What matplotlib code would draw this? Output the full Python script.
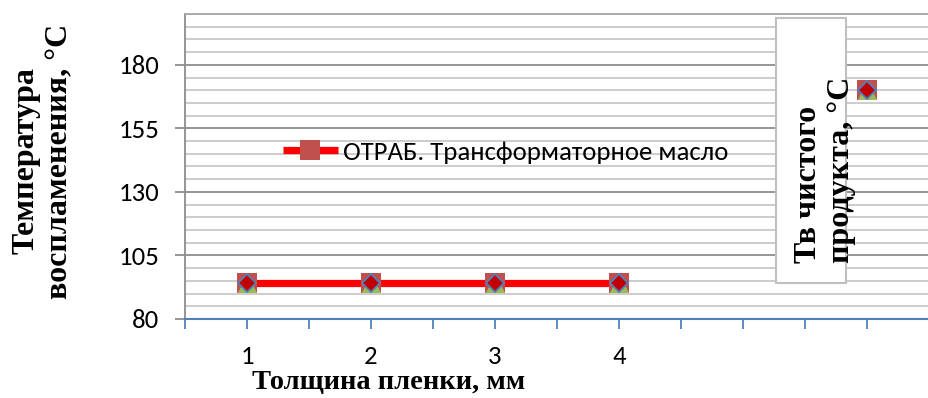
import numpy as np
import matplotlib
matplotlib.use("Agg")
import matplotlib.pyplot as plt
from matplotlib.lines import Line2D
from matplotlib.patches import Rectangle
from matplotlib import font_manager

# ---------------- data ----------------
categories = [1, 2, 3, 4, 5, 6]
tick_labels = ["1", "2", "3", "4", "", ""]
oil_values = [94, 94, 94, 94, np.nan, 170]       # ОТРАБ. Трансформаторное масло (square + line)
series_tri = [94, 94, 94, 94, np.nan, 170]       # overlapping series (triangle)
series_dia = [94, 94, 94, 94, np.nan, 170]       # overlapping series (diamond)
legend_label = "ОТРАБ. Трансформаторное масло"
y_ticks = [80, 105, 130, 155, 180]
y_label = "Температура\nвоспламенения, °C"
x_label = "Толщина пленки, мм"
box_text = "Тв чистого\nпродукта, °C"

# ---------------- fonts ----------------
avail = {f.name for f in font_manager.fontManager.ttflist}
sans = next(f for f in ["Carlito", "Lato", "Open Sans", "DejaVu Sans"] if f in avail)
serif = next(f for f in ["Liberation Serif", "DejaVu Serif"] if f in avail)
sans_size = 19.3 if sans == "Carlito" else 17.5

W, H = 929, 398
fig = plt.figure(figsize=(W / 100, H / 100), dpi=100)
fig.patch.set_facecolor("white")

ax_left, ax_right, ax_top, ax_bottom = 185, 929, 14, 319
ax = fig.add_axes([ax_left / W, (H - ax_bottom) / H, (ax_right - ax_left) / W, (ax_bottom - ax_top) / H])
cat_px = 125.8
ax.set_xlim(0.5, 0.5 + (ax_right - ax_left) / cat_px)
ax.set_ylim(80, 200)

# grid
ax.set_yticks(y_ticks)
ax.set_yticks(np.arange(80, 201, 5), minor=True)
ax.yaxis.grid(True, which="minor", color="#C8C8C8", lw=1.3, zorder=0)
ax.yaxis.grid(True, which="major", color="#8C8C8C", lw=1.3, zorder=0)
ax.set_axisbelow(True)

# series
ax.plot(categories, oil_values, color="#FF0000", lw=5.2, marker="s", markersize=13.7,
        markerfacecolor="#C0504D", markeredgewidth=0, zorder=3, solid_capstyle="butt")
tri = [(-1, -1), (1, -1), (0, 1), (-1, -1)]
ax.plot(categories, series_tri, ls="none", marker=tri, markersize=13.7,
        markerfacecolor="#9BBB59", markeredgewidth=0, zorder=4)
ax.plot(categories, series_dia, ls="none", marker="D", markersize=9.0,
        markerfacecolor="#C00000", markeredgecolor="#4F81BD", markeredgewidth=1.3, zorder=5)

# x axis ticks
xt = np.arange(0.5, 7.0, 0.5)
ax.set_xticks(xt)
lab = []
for v in xt:
    if float(v).is_integer() and int(v) in categories:
        lab.append(tick_labels[categories.index(int(v))])
    else:
        lab.append("")
ax.set_xticklabels(lab, fontsize=sans_size, fontfamily=sans)
ax.tick_params(axis="x", which="major", direction="out", length=7, width=1.3,
               color="#4F81BD", pad=12)
ax.tick_params(axis="y", which="major", direction="out", length=7, width=1.3,
               color="#8C8C8C", pad=11.5, labelsize=sans_size)
ax.tick_params(axis="y", which="minor", length=0)
for t in ax.get_yticklabels():
    t.set_fontfamily(sans)

ax.spines["right"].set_visible(False)
ax.spines["top"].set_color("#A6A6A6")
ax.spines["top"].set_linewidth(1.3)
ax.spines["left"].set_color("#8C8C8C")
ax.spines["left"].set_linewidth(1.3)
ax.spines["bottom"].set_color("#4F81BD")
ax.spines["bottom"].set_linewidth(1.5)

# legend
handle = Line2D([], [], color="#FF0000", lw=5.2, marker="s", markersize=13.7,
                markerfacecolor="#C0504D", markeredgewidth=0, solid_capstyle="butt")
ax.legend([handle], [legend_label], loc="center left",
          bbox_to_anchor=(283 / W, 1 - 152 / H), bbox_transform=fig.transFigure,
          frameon=False, borderpad=0, borderaxespad=0, handlelength=2.05,
          handletextpad=0.18, prop={"family": sans, "size": sans_size})

# axis labels
fig.text(43 / W, 1 - 161 / H, y_label, rotation=90, ha="center", va="center",
         multialignment="center", fontsize=23, fontweight="bold", fontfamily=serif,
         linespacing=1.22)
fig.text(389 / W, 1 - 383 / H, x_label, ha="center", va="center",
         fontsize=20.5, fontweight="bold", fontfamily=serif)

# text box
rect = Rectangle((776 / W, 1 - 283 / H), 70 / W, 265 / H, transform=fig.transFigure,
                 facecolor="white", edgecolor="#BFBFBF", lw=1.5, zorder=2)
fig.add_artist(rect)
fig.text(825 / W, 1 - 263 / H, box_text, rotation=90, ha="center", va="bottom",
         multialignment="left", fontsize=23, fontweight="bold", fontfamily=serif,
         linespacing=1.2, zorder=3)

fig.savefig("out.png", dpi=100)
